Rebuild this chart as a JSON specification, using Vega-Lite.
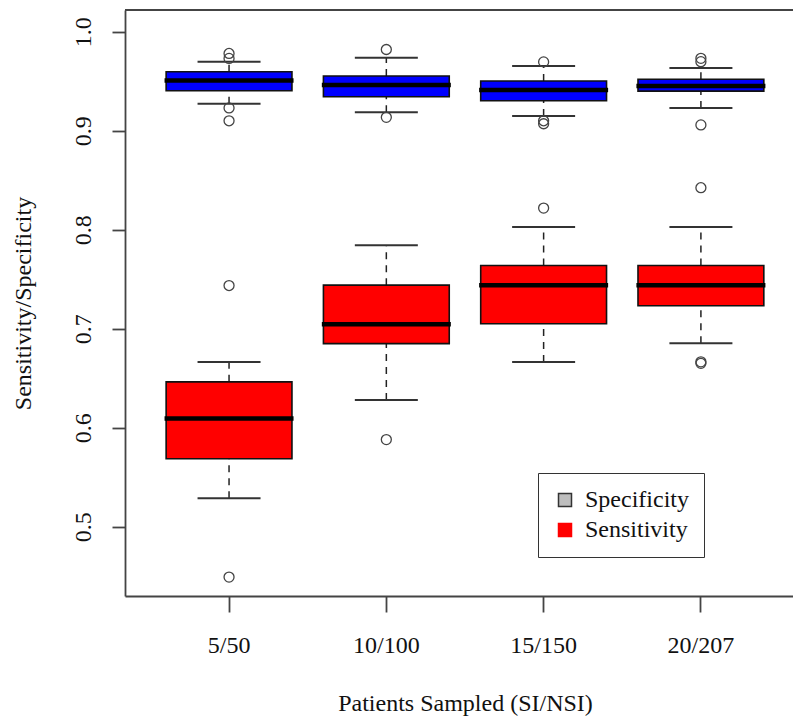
{
  "$schema": "https://vega.github.io/schema/vega-lite/v6.json",
  "width": 668,
  "height": 586,
  "autosize": {"type": "none"},
  "padding": {"left": 125, "top": 10, "right": 0, "bottom": 121},
  "background": "white",
  "datasets": {
    "boxes": [
      {"group": "5/50", "metric": "Specificity", "lower": 0.9273, "q1": 0.9404, "median": 0.9508, "q3": 0.9596, "upper": 0.9697},
      {"group": "10/100", "metric": "Specificity", "lower": 0.9185, "q1": 0.9343, "median": 0.9461, "q3": 0.9552, "upper": 0.9737},
      {"group": "15/150", "metric": "Specificity", "lower": 0.9148, "q1": 0.9303, "median": 0.9411, "q3": 0.9502, "upper": 0.9653},
      {"group": "20/207", "metric": "Specificity", "lower": 0.9229, "q1": 0.9400, "median": 0.9452, "q3": 0.9519, "upper": 0.9633},
      {"group": "5/50", "metric": "Sensitivity", "lower": 0.5287, "q1": 0.5686, "median": 0.6092, "q3": 0.6463, "upper": 0.6664},
      {"group": "10/100", "metric": "Sensitivity", "lower": 0.6280, "q1": 0.6849, "median": 0.7044, "q3": 0.7440, "upper": 0.7842},
      {"group": "15/150", "metric": "Sensitivity", "lower": 0.6664, "q1": 0.7050, "median": 0.7440, "q3": 0.7638, "upper": 0.8027},
      {"group": "20/207", "metric": "Sensitivity", "lower": 0.6852, "q1": 0.7232, "median": 0.7440, "q3": 0.7638, "upper": 0.8027}
    ],
    "outliers": [
      {"group": "5/50", "metric": "Specificity", "value": 0.978},
      {"group": "5/50", "metric": "Specificity", "value": 0.973},
      {"group": "5/50", "metric": "Specificity", "value": 0.923},
      {"group": "5/50", "metric": "Specificity", "value": 0.910},
      {"group": "10/100", "metric": "Specificity", "value": 0.982},
      {"group": "10/100", "metric": "Specificity", "value": 0.9135},
      {"group": "15/150", "metric": "Specificity", "value": 0.9695},
      {"group": "15/150", "metric": "Specificity", "value": 0.910},
      {"group": "15/150", "metric": "Specificity", "value": 0.907},
      {"group": "20/207", "metric": "Specificity", "value": 0.9731},
      {"group": "20/207", "metric": "Specificity", "value": 0.9697},
      {"group": "20/207", "metric": "Specificity", "value": 0.9058},
      {"group": "20/207", "metric": "Specificity", "value": 0.8424},
      {"group": "5/50", "metric": "Sensitivity", "value": 0.7436},
      {"group": "5/50", "metric": "Sensitivity", "value": 0.4491},
      {"group": "10/100", "metric": "Sensitivity", "value": 0.588},
      {"group": "15/150", "metric": "Sensitivity", "value": 0.8218},
      {"group": "20/207", "metric": "Sensitivity", "value": 0.6665},
      {"group": "20/207", "metric": "Sensitivity", "value": 0.6650}
    ]
  },
  "layer": [
    {
      "data": {"name": "boxes"},
      "mark": {"type": "rule", "color": "#222", "strokeWidth": 1.5, "strokeDash": [7, 6]},
      "encoding": {
        "x": {"field": "group", "type": "ordinal", "sort": ["5/50", "10/100", "15/150", "20/207"],
              "scale": {"type": "band", "paddingInner": 0.2, "paddingOuter": 0.2235, "align": 0.585},
              "title": "Patients Sampled (SI/NSI)"},
        "y": {"field": "q3", "type": "quantitative", "title": "Sensitivity/Specificity",
              "scale": {"domain": [0.43, 1.0219], "nice": false, "zero": false},
              "axis": {"values": [0.5, 0.6, 0.7, 0.8, 0.9, 1.0], "format": ".1f"}},
        "y2": {"field": "upper"}
      }
    },
    {
      "data": {"name": "boxes"},
      "mark": {"type": "rule", "color": "#222", "strokeWidth": 1.5, "strokeDash": [7, 6]},
      "encoding": {
        "x": {"field": "group", "type": "ordinal", "sort": ["5/50", "10/100", "15/150", "20/207"], "title": "Patients Sampled (SI/NSI)"},
        "y": {"field": "lower", "type": "quantitative", "title": "Sensitivity/Specificity"},
        "y2": {"field": "q1"}
      }
    },
    {
      "data": {"name": "boxes"},
      "mark": {"type": "tick", "color": "#333", "size": 63, "thickness": 2, "opacity": 1},
      "encoding": {
        "x": {"field": "group", "type": "ordinal", "sort": ["5/50", "10/100", "15/150", "20/207"], "title": "Patients Sampled (SI/NSI)"},
        "y": {"field": "upper", "type": "quantitative", "title": "Sensitivity/Specificity"}
      }
    },
    {
      "data": {"name": "boxes"},
      "mark": {"type": "tick", "color": "#333", "size": 63, "thickness": 2, "opacity": 1},
      "encoding": {
        "x": {"field": "group", "type": "ordinal", "sort": ["5/50", "10/100", "15/150", "20/207"], "title": "Patients Sampled (SI/NSI)"},
        "y": {"field": "lower", "type": "quantitative", "title": "Sensitivity/Specificity"}
      }
    },
    {
      "data": {"name": "boxes"},
      "mark": {"type": "bar", "stroke": "#111", "strokeWidth": 1.6, "opacity": 1},
      "encoding": {
        "x": {"field": "group", "type": "ordinal", "sort": ["5/50", "10/100", "15/150", "20/207"], "title": "Patients Sampled (SI/NSI)"},
        "y": {"field": "q1", "type": "quantitative", "title": "Sensitivity/Specificity"},
        "y2": {"field": "q3"},
        "fill": {"field": "metric", "type": "nominal",
                 "scale": {"domain": ["Specificity", "Sensitivity"], "range": ["#0000ff", "#ff0000"]},
                 "legend": null}
      }
    },
    {
      "data": {"name": "boxes"},
      "mark": {"type": "tick", "color": "#000", "size": 129, "thickness": 4.5, "opacity": 1},
      "encoding": {
        "x": {"field": "group", "type": "ordinal", "sort": ["5/50", "10/100", "15/150", "20/207"], "title": "Patients Sampled (SI/NSI)"},
        "y": {"field": "median", "type": "quantitative", "title": "Sensitivity/Specificity"}
      }
    },
    {
      "data": {"name": "outliers"},
      "mark": {"type": "point", "shape": "circle", "filled": false, "stroke": "#444", "strokeWidth": 1.3, "size": 100, "opacity": 1},
      "encoding": {
        "x": {"field": "group", "type": "ordinal", "sort": ["5/50", "10/100", "15/150", "20/207"], "title": "Patients Sampled (SI/NSI)"},
        "y": {"field": "value", "type": "quantitative", "title": "Sensitivity/Specificity"}
      }
    },
    {
      "data": {"name": "boxes"},
      "mark": {"type": "point", "shape": "square", "filled": true, "clip": true, "strokeWidth": 1.5, "size": 169, "opacity": 1},
      "encoding": {
        "x": {"field": "group", "type": "ordinal", "sort": ["5/50", "10/100", "15/150", "20/207"], "title": "Patients Sampled (SI/NSI)"},
        "y": {"datum": 2, "type": "quantitative", "title": "Sensitivity/Specificity"},
        "fill": {"field": "metric", "type": "nominal",
                 "scale": {"domain": ["Specificity", "Sensitivity"], "range": ["#bebebe", "#ff0000"]},
                 "legend": {
                   "title": null, "orient": "none", "legendX": 413, "legendY": 463,
                   "symbolType": "square", "symbolSize": 169, "symbolStrokeWidth": 1.5, "symbolOpacity": 1,
                   "labelFont": "Liberation Serif", "labelFontSize": 24, "labelColor": "#111", "labelOffset": 8,
                   "padding": 15, "rowPadding": 6,
                   "strokeColor": "#333", "fillColor": "white"
                 }},
        "stroke": {"field": "metric", "type": "nominal",
                   "scale": {"domain": ["Specificity", "Sensitivity"], "range": ["#333333", "#ff0000"]}}
      }
    },
    {
      "data": {"values": [{}]},
      "mark": {"type": "rule", "color": "#444", "strokeWidth": 1.8},
      "encoding": {
        "y": {"datum": 1.0219, "type": "quantitative", "title": "Sensitivity/Specificity"}
      }
    }
  ],
  "resolve": {"scale": {"fill": "independent", "stroke": "independent"}, "legend": {"fill": "independent", "stroke": "independent"}},
  "config": {
    "view": {"stroke": null},
    "font": "Liberation Serif",
    "axis": {
      "grid": false,
      "domainColor": "#444", "domainWidth": 1.8,
      "tickColor": "#444", "tickWidth": 1.8,
      "labelFont": "Liberation Serif", "labelFontSize": 24, "labelColor": "#111",
      "titleFont": "Liberation Serif", "titleFontSize": 24, "titleFontWeight": "normal", "titleColor": "#111",
      "labelOverlap": false, "labelFlush": false
    },
    "axisX": {
      "labelAngle": 0, "tickSize": 16, "labelPadding": 40, "labelBaseline": "alphabetic",
      "titleX": 340, "titleY": 114, "titleBaseline": "alphabetic", "titleAlign": "center", "titleAnchor": null
    },
    "axisY": {
      "labelAngle": 270, "labelAlign": "center", "labelBaseline": "alphabetic", "tickSize": 13, "labelPadding": 22,
      "titleAngle": 270, "titleX": -95, "titleY": 293, "titleBaseline": "alphabetic", "titleAlign": "center"
    }
  }
}
